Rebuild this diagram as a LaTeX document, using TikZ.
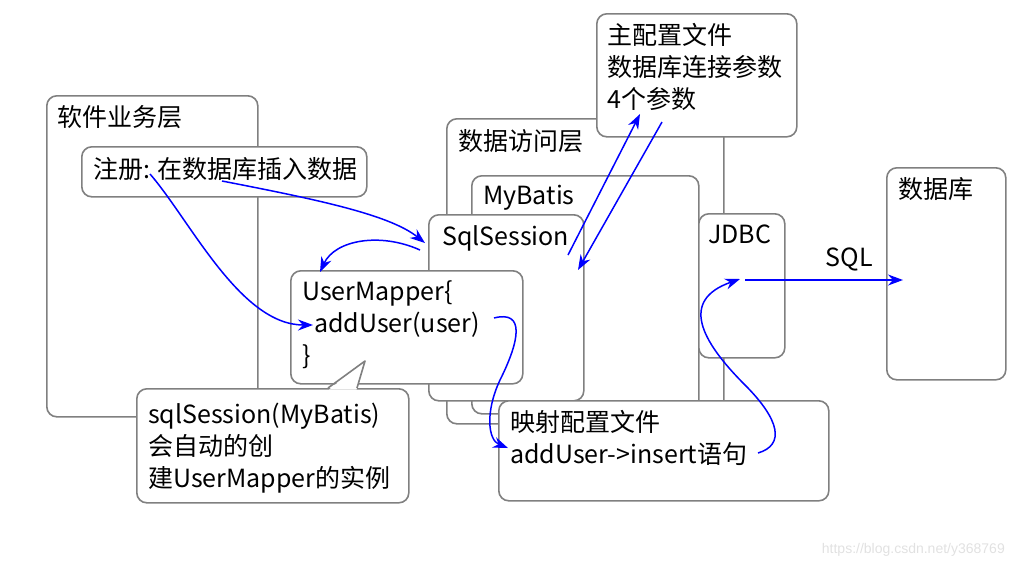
\documentclass[tikz,border=0pt]{standalone}
\usepackage{fontspec}
\setmainfont{Noto Sans CJK SC}
\newfontfamily\markfont{Liberation Sans}
\usetikzlibrary{arrows.meta}
\definecolor{boxgray}{RGB}{128,128,128}
\definecolor{markgray}{RGB}{225,225,225}

\begin{document}
\begin{tikzpicture}[x=1pt, y=-1pt,
    box/.style={draw=boxgray, line width=1.6pt, fill=white, rounded corners=10pt, inner sep=0pt, anchor=north west},
    txt/.style={anchor=base west, inner sep=0pt, align=left, font=\fontsize{25}{32}\selectfont},
    flow/.style={draw=blue, line width=1.5pt, -{Stealth[length=15pt, width=11pt]}}]
    \useasboundingbox (0,0) rectangle (1016,566);
    % boxes, back to front
    \foreach \name/\x/\y/\w/\h in {biz/46/95/211/321, reg/81/146/285/50, dal/446/118/277/305,
        mybatis/471/175/227/238, session/428/214/155/186, mapper/290/270/232/113,
        note/136/388/272/114, config/596/13/200/123, jdbc/698/213/86/144,
        db/886/167/119/212, xml/498/400/330/100}{
        \node[box, minimum width=\w, minimum height=\h] (\name) at (\x,\y) {};
    }
    % tail of the note
    \fill[white] (329,389.5) -- (365,361) -- (356.5,389.5) -- cycle;
    \draw[boxgray, line width=1.6pt, line join=round] (328,388) -- (365,361) -- (357,388);
    % texts (base = last line)
    \node[txt] (bizT) at (57,126) {软件业务层};
    \node[txt] (regT) at (93,178) {注册: 在数据库插入数据};
    \node[txt] (dalT) at (458,150) {数据访问层};
    \node[txt] (mybatisT) at (483,204) {MyBatis};
    \node[txt] (sessionT) at (442,245) {SqlSession};
    \node[txt] (mapperT) at (302,364) {UserMapper\{\\\hspace*{12pt}addUser(user)\\\}};
    \node[txt] (noteT) at (148,487) {sqlSession(MyBatis)\\会自动的创\\建UserMapper的实例};
    \node[txt] (configT) at (607,108) {主配置文件\\数据库连接参数\\4个参数};
    \node[txt] (jdbcT) at (708,243) {JDBC};
    \node[txt] (dbT) at (898,198) {数据库};
    \node[txt] (xmlT) at (510,463) {映射配置文件\\addUser->insert语句};
    \node[anchor=base east, inner sep=0pt, text=markgray, font=\markfont\fontsize{14}{14}\selectfont] (mark) at (1005,553) {https://blog.csdn.net/y368769};
    % connector ends
    \coordinate (regA) at (150,174);
    \coordinate (regB) at (222,181);
    \coordinate (addIn) at (313,325);
    \coordinate (sessIn) at (425,243);
    \coordinate (sessOut) at (420,250);
    \coordinate (mapTop) at (320,272);
    \coordinate (sessUp) at (568,255);
    \coordinate (cfgIn) at (640,114);
    \coordinate (cfgOut) at (662,122);
    \coordinate (sessDown) at (578,270);
    \coordinate (addOut) at (494,318);
    \coordinate (xmlIn) at (508,448);
    \coordinate (sqlOut) at (758,453);
    \coordinate (jdbcIn) at (740,279);
    \coordinate (jdbcOut) at (745,280);
    \coordinate (dbIn) at (903,280);
    % flows
    \draw[flow] (regA) .. controls (190,220) and (240,325) .. (addIn);
    \draw[flow] (regB) .. controls (320,200) and (390,215) .. (sessIn);
    \draw[flow] (sessOut) .. controls (380,232) and (335,240) .. (mapTop);
    \draw[flow] (sessUp) -- (cfgIn);
    \draw[flow] (cfgOut) -- (sessDown);
    \draw[flow] (addOut) .. controls (525,310) and (520,340) .. (500,380) .. controls (485,412) and (488,440) .. (xmlIn);
    \draw[flow] (sqlOut) .. controls (785,445) and (780,420) .. (745,385) .. controls (700,340) and (680,300) .. (jdbcIn);
    \draw[flow] (jdbcOut) -- node[pos=0.66, above=5pt, font=\fontsize{25}{32}\selectfont, text=black] (sqlT) {SQL} (dbIn);
\end{tikzpicture}
\end{document}
